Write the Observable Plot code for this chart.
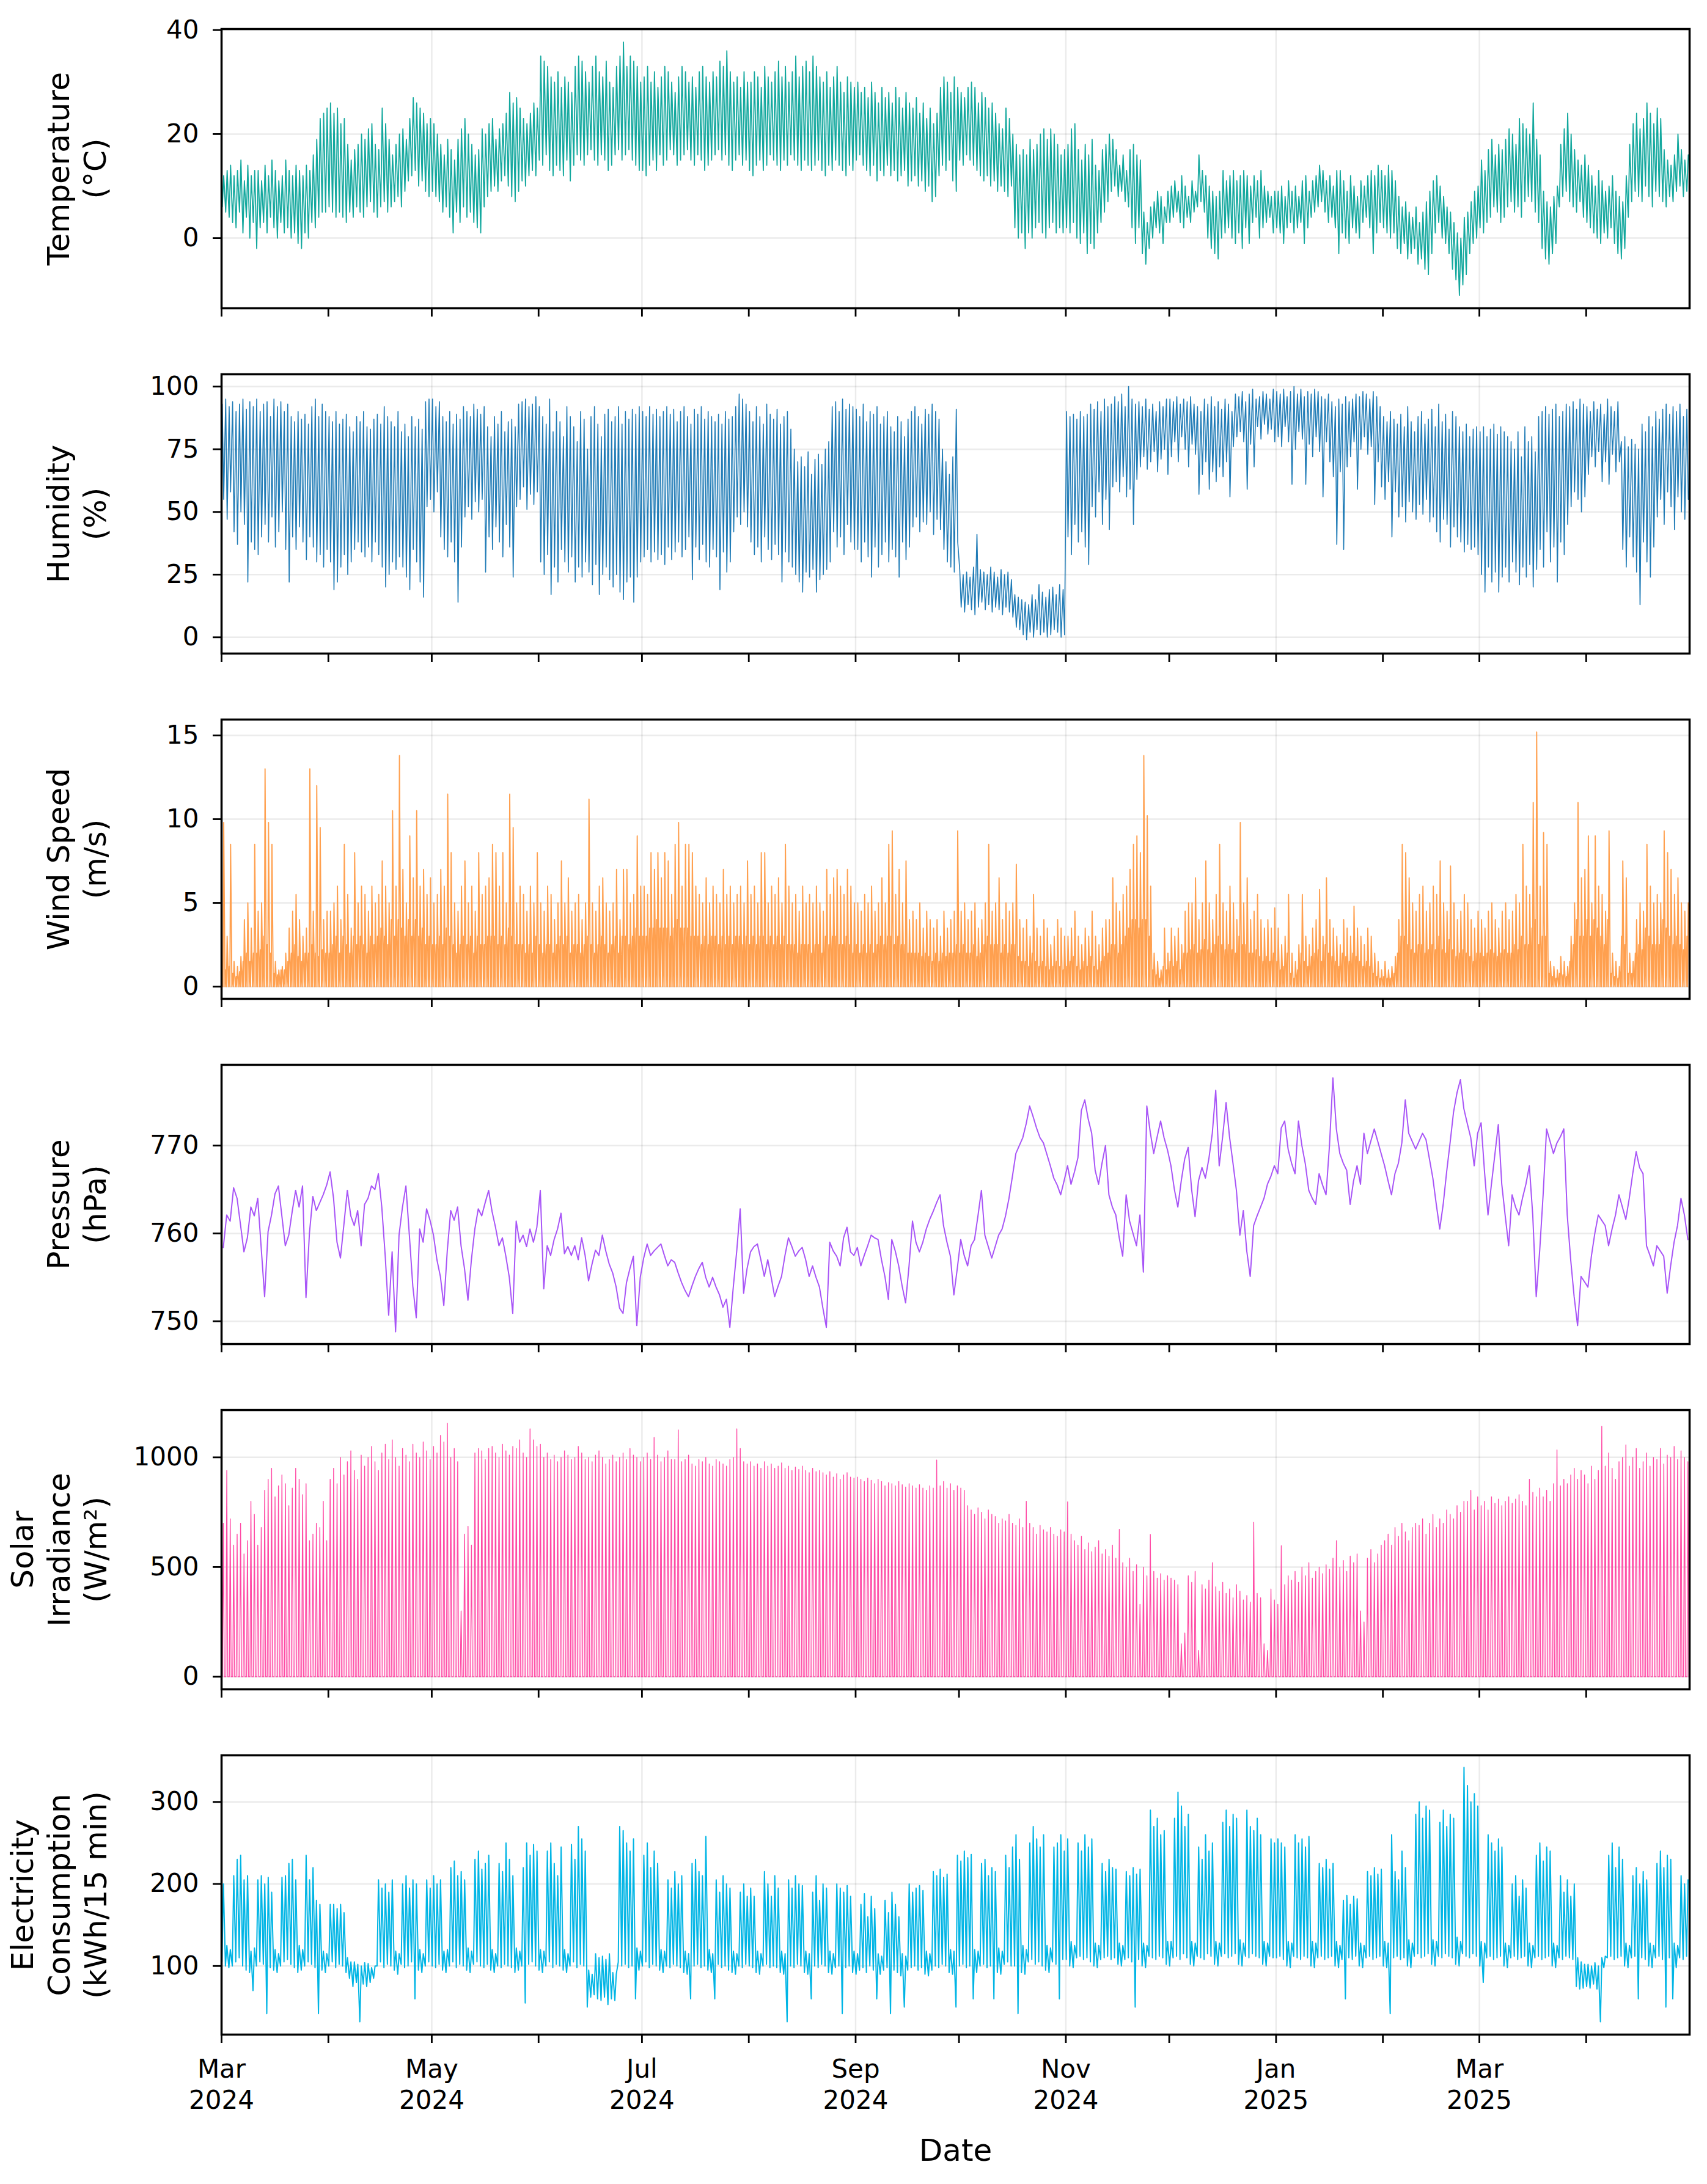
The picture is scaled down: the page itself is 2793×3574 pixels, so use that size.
<!DOCTYPE html>
<html><head><meta charset="utf-8">
<script src="https://cdn.jsdelivr.net/npm/d3@7"></script>
<script src="https://cdn.jsdelivr.net/npm/@observablehq/plot@0.6"></script>
<style>
body{margin:0;background:#fff;}
#chart{width:2793px;}
#chart svg{display:block;}
</style></head><body><div id="chart"></div>
<script>
// Daily readings, one entry per day from 2024-03-01 to 2025-04-30 (426 days)
const tempHigh = [
12,13,14,12,13,15,11,14,12,13,13,11,14,12,15,13,11,12,15,13,12,14,13,12,14,13,16,19,23,24,25,
26,24,25,22,23,18,15,17,18,20,19,21,22,18,17,25,22,19,16,18,20,21,19,23,27,26,25,24,22,23,
22,20,18,16,19,17,15,19,21,23,20,18,16,17,21,20,22,23,19,21,22,24,28,26,27,25,23,22,24,26,25,
35,34,33,31,30,32,29,31,30,28,33,35,34,32,30,33,35,32,31,34,30,29,33,35,37.7,33,35,34,33,30,
31,33,30,32,29,31,33,32,30,28,31,33,32,30,31,29,32,33,31,30,32,31,34,33,36,32,30,31,29,32,30,
30,32,31,29,33,31,30,32,34,31,33,30,32,35,31,33,34,32,35,33,31,30,32,29,31,33,30,28,31,30,29,
30,28,29,27,30,28,26,29,27,28,26,29,27,25,28,26,25,27,24,26,23,25,22,24,29,31,30,28,31,29,
28,27,29,30,29,26,28,27,25,26,24,22,21,25,23,20,18,16,17,16,19,17,18,20,21,19,21,20,18,16,17,
18,21,22,17,15,18,16,19,14,13,17,18,20,19,17,14,16,13,17,18,16,15,5,3,6,7,9,8,6,9,
10,11,9,12,10,8,11,9,16,13,12,10,9,8,9,13,11,12,13,11,12,13,12,10,12,11,13,10,9,8,9,
9,10,8,11,9,10,8,11,12,9,11,12,14,13,11,12,10,13,13,11,9,12,10,8,11,10,12,13,12,14,13,
12,14,13,11,8,6,7,5,4,6,3,5,7,9,11,12,10,8,6,5,3,1,0,4,5,7,9,10,
15,13,17,19,16,18,17,19,21,20,18,23,22,21,20,26,19,16,9,7,6,8,10,18,21,24,20,17,15,14,16,
14,12,10,13,11,9,10,12,9,8,7,12,18,22,24,21,23,26,24,22,25,23,17,15,14,16,20,17,15,16];
const tempLow = [
6,5,4,3,2,5,1,4,0,3,-2,2,3,1,4,2,0,3,1,2,0,1,-1,-2,1,0,3,2,4,5,5,
6,5,4,5,4,3,5,4,6,5,4,6,7,5,4,6,7,5,6,7,8,6,9,11,12,13,10,11,9,8,
9,8,7,5,6,4,1,5,3,6,4,5,3,2,1,6,8,9,10,9,11,12,10,8,7,9,11,10,12,13,12,
15,14,16,13,12,14,13,12,15,11,14,16,15,14,16,17,15,14,16,15,13,14,16,17,15,16,17,15,14,13,
13,12,14,15,13,16,14,15,17,16,14,15,16,17,15,14,16,15,13,14,15,16,17,15,16,14,13,15,16,14,15,
13,12,14,15,13,14,16,15,14,13,15,14,16,15,14,13,15,14,13,14,15,13,12,14,13,15,14,13,12,14,13,
15,16,14,13,12,14,11,13,12,14,12,13,11,12,13,10,11,12,10,11,9,10,7,8,12,14,13,15,11,9,
15,14,16,15,14,13,12,11,12,10,11,9,10,9,8,10,2,0,1,-2,1,0,2,3,1,0,2,3,1,2,1,
2,1,3,0,-1,1,-3,-1,-2,1,3,5,7,9,10,8,9,7,6,2,-1,2,-3,-5,-2,0,2,1,-1,3,
3,4,5,3,2,4,3,5,6,7,5,0,-2,-3,-4,0,1,2,0,-1,1,-2,2,-1,3,4,0,2,3,4,1,
2,1,-1,2,3,1,2,3,-1,2,4,5,6,7,5,3,4,2,-3,1,0,-1,2,1,0,3,4,2,-3,1,3,
2,1,0,1,-2,-3,-1,-4,-3,-2,-5,-4,-6,-7,-3,1,3,0,-1,-3,-6,-8,-11,-9,-7,-3,-1,0,
2,1,3,4,6,5,3,4,6,7,5,6,4,7,8,7,5,3,-2,-4,-5,-3,-1,6,8,9,7,6,5,7,4,
3,2,1,0,-1,1,0,2,-1,-3,-4,-2,4,7,9,8,7,10,8,6,9,8,7,6,8,7,9,10,8,9];

const humHigh = [
93,95,92,94,90,93,95,91,94,92,95,90,93,94,88,95,92,94,90,93,88,86,90,87,89,85,92,95,88,93,90,
88,86,90,85,87,89,84,82,88,86,90,84,83,87,89,85,92,88,86,84,90,82,85,80,88,84,87,83,94,95,
95,92,94,88,86,90,85,89,87,92,90,88,93,91,89,92,84,80,88,85,90,82,86,87,84,93,94,95,92,93,96,
92,88,85,95,82,90,86,80,92,88,84,78,90,87,75,88,92,85,80,89,91,86,88,92,85,90,87,91,89,92,
90,88,92,89,91,88,90,92,89,91,86,90,92,88,85,91,89,92,87,90,88,86,89,85,90,87,88,92,97,95,93,
90,86,92,88,85,93,89,87,91,85,88,90,83,75,70,72,68,74,65,71,73,69,75,78,92,94,90,95,91,93,92,
91,88,93,86,90,89,92,85,88,90,84,82,88,86,80,87,90,92,88,85,91,89,93,90,87,75,70,65,72,91,
27,25,26,24,28,41,27,26,25,28,26,24,27,25,26,23,17,16,15,14,13,17,15,21,18,16,19,20,17,21,19,
90,88,89,87,90,88,89,93,91,94,90,95,92,93,96,94,97,92,100,95,93,94,92,95,91,93,90,94,92,95,
95,94,96,93,95,94,96,93,92,90,95,93,96,92,94,91,95,93,90,97,96,98,94,97,99,95,96,98,97,95,99,
98,97,99,96,98,100,97,99,96,98,97,99,98,96,95,97,94,92,95,93,96,94,95,97,96,98,97,95,98,96,92,
88,86,90,87,85,89,84,92,86,82,88,90,85,87,91,84,93,86,89,83,90,88,84,82,85,80,83,84,
82,84,80,83,85,81,84,82,80,78,75,82,72,84,78,80,74,88,90,92,89,91,93,88,90,93,92,94,91,95,93,
92,90,94,91,93,89,95,92,90,94,78,80,76,79,77,75,85,82,88,84,90,87,91,93,89,92,90,93,88,91];
const humLow = [
55,47,58,42,37,50,45,22,38,35,33,40,45,38,48,36,42,50,35,22,40,35,44,38,31,40,36,30,33,28,35,
30,19,22,28,33,25,30,35,38,34,32,36,30,38,33,28,20,25,30,27,32,28,24,19,35,30,22,16,52,55,
50,58,40,35,32,38,30,14,36,48,52,47,54,50,55,26,40,35,44,38,32,45,36,24,52,55,60,51,57,53,58,
30,25,33,17,28,22,35,30,26,32,22,28,24,30,26,21,29,17,25,28,23,20,25,18,15,22,24,14,24,30,
32,35,30,34,31,33,29,36,31,34,38,32,35,40,23,36,31,37,30,28,35,32,19,34,26,30,42,48,45,50,44,
38,33,36,30,40,35,31,37,33,22,34,30,28,25,22,18,26,24,27,18,23,25,27,30,42,36,40,33,45,38,35,
35,30,38,32,24,36,28,33,38,30,35,32,24,38,31,36,44,48,42,46,45,50,41,47,43,35,30,28,26,38,
12,10,13,11,9,12,14,11,13,10,12,11,9,12,10,8,4,3,1,-1,2,0,3,1,2,0,1,3,2,0,1,
40,33,45,38,42,36,29,52,48,58,45,55,43,60,62,58,64,56,59,45,63,68,72,67,70,74,66,71,75,65,
72,78,70,80,75,68,77,73,57,65,70,59,66,62,68,64,70,56,76,80,82,78,59,77,68,84,79,85,81,83,78,
80,76,84,78,61,75,82,79,61,77,72,80,74,56,78,70,64,37,66,35,68,72,78,59,75,80,73,76,53,70,60,
55,62,40,58,48,52,46,54,50,47,53,49,55,46,48,42,38,47,45,36,44,40,38,34,37,35,36,33,
25,18,28,22,26,18,24,28,22,30,26,21,28,24,29,20,27,35,28,42,30,36,22,38,33,45,52,58,55,50,56,
65,72,68,74,62,70,61,73,66,70,35,28,40,32,26,13,38,30,24,36,48,55,45,58,52,43,56,50,47,55];

const windMax = [
9.8,3,8.5,1.5,1.2,1.8,4,5,3.5,8.5,4.5,5,13,9.8,8.5,1.5,1,1.2,2,3.5,4.5,5.5,4,3,3.5,13,4.5,12,9.5,4,4.5,
4.5,5,6,4,8.5,5.5,3.5,8,5,6,5.5,4.5,6,5,5.5,7.5,6,5,10.5,6,13.8,7,5,9,6.5,10.5,6,7,5.5,6.5,
5,5.5,7,6,11.5,8,5,4.5,6,7.5,5,6,4.5,8,5.5,6,6.5,8.5,8,6,8,5,11.5,9.5,5,6,5.5,4.5,6,5,8,
5,4.5,6,5.5,4,5,7.5,5,6.5,4.5,5,5.5,4,5,11.2,5,4.5,6,6.5,5,4.5,5,7,4,7,7,5,5.5,9,6,
6,5.5,8,7,8,6.5,8,7.5,5.5,8.5,9.8,6,8.5,8.5,8,6,5.5,5,6.5,5,6,5.5,5,7,5.5,6,5,5.5,6,5,7.5,
5.5,6,5,8,8,5,6,5.5,6.5,5,8.5,6,5,5.5,4.5,6,5,5.5,5,6,5,4.5,7,5.5,6.5,7,6,5.5,7,6,5,
5,4.5,5.5,5,6,4.5,5,6.5,5,8.5,9.3,5.5,7,5,7.5,4,4.5,4,5,3.5,4.5,4,3.5,4,3,4.5,3.5,4,4.5,9.3,
4.5,5,4,4.5,5,3.5,4,5,8.5,4.5,5,6.5,4,5,4.5,5,7.3,4,3.5,4,3,5.5,3.5,3,4,3.5,2.5,3,4,3.5,3,
3,3.5,4.5,3,2.5,3.5,3,4.5,3,2.5,3.5,4,4,6.5,5,4.5,5.5,6,7,8.5,9,8,13.8,10.2,6,2,1.5,1,3.5,2,
3.5,3,3.5,2.5,4.5,5,5,6.5,4,5,7.5,5,4,5.5,8.5,5,4.5,6,5,4,9.8,5,6.5,4,4.5,5.5,4,3.5,4,3.5,4.7,
3.5,2.5,3,5.5,2,1.5,2.5,5.5,3,2.5,3.5,4,5.8,3,6.5,4,3.5,3,2.5,4,3.5,3,4.8,3.5,3,2.5,3.5,3,2,1.5,1,
1.5,1,1.2,1.8,4,8.5,8,6.5,5,4.5,5.5,6,4.5,5,6,5.5,7.5,5,4.5,7.2,5,4,4.5,5.5,5,4,3.5,4.5,
4,3.5,4.5,5,4,3.5,4.5,5,4,4.5,5.5,5,8.5,6,5.5,11,15.2,6,9.2,8.5,1.5,1.2,1,1.8,1.5,1.2,3,5,11,6.5,7,
9,5,9,6,5.5,4.5,9.3,2,1.5,1.2,7.5,6.5,2,1.5,4,5,4.5,8.5,6,5,5.5,5,9.3,8,7,5.5,6.5,5,4.5,5];
const windMid = [
1.5,1,1.2,0.8,0.6,0.9,1.5,2,1.5,2,2,2.2,3,2.5,2,0.8,0.7,1,1,1.5,2,2.5,1.8,1.5,2,2,2.5,2,1.8,2.2,2,
2,2.5,3,2,3,2.5,2,3,2.5,3,2.5,2,3,2.5,3,3.5,3,2.5,4,3,4,3.5,3,4,3,4,3,3.5,2.5,3,
2.5,2.5,3,2.5,3.5,3,2.5,2,2.5,3,2.5,3,2,3,2.5,2.5,3,3,3,2.5,3,2.5,3.5,3,2.5,2.5,2.5,2,2.5,2,3,
2.5,2,2.5,2.5,2,2.5,3,2.5,3,2,2.5,2.5,2,2.5,3,2.5,2,2.5,3,2.5,2,2.5,3,2,3,3,2.5,3,3.5,3,
3,3,3.5,3.5,4,3.5,3.5,3.5,3,3.5,4,3.5,3.5,3.5,3,3,3,2.5,3,2.5,3,3,2.5,3,2.5,3,2.5,3,3,2.5,3,
2.5,3,2.5,3,3,2.5,3,2.5,3,2.5,3,2.5,2.5,2.5,2,2.5,2.5,2.5,2,2.5,2.5,2,3,2.5,3,3,2.5,2.5,3,2.5,2,
2.5,2,2.5,2,2.5,2,2.5,3,2.5,3,3,2.5,3,2.5,2.5,2,2,2,2,1.8,2,1.8,1.5,2,1.5,2,1.8,2,2,2.5,
2,2.5,2,2,2.5,1.8,2,2.5,3,2.5,2.5,2.5,2,2.5,2,2.5,2.5,1.8,1.5,1.5,1.2,2,1.5,1.2,1.5,1.2,1,1.2,1.5,1.2,1,
1.2,1.5,1.8,1.2,1,1.5,1.2,1.8,1.2,1,1.5,1.8,2,2.5,2.5,2,2.5,3,3.5,4,4,3.5,4,4,3,1,0.7,0.5,1.2,1,
1.5,1.2,1.5,1,2,2,2.2,2.5,2,2.2,2.8,2.2,2,2.5,3,2.5,2.2,2.5,2.2,2,3,2.5,2.5,2,2,2.2,1.8,1.5,1.8,1.5,2,
1.5,1,1.2,2,0.8,0.5,1,2,1.5,1.2,1.8,2,2.2,1.5,2.5,2,1.8,1.5,1.2,2,1.8,1.5,2,1.8,1.5,1.2,1.5,1.2,0.8,0.6,0.5,
0.6,0.5,0.5,0.8,2,3,3,2.5,2.2,2,2.5,2.5,2,2.2,2.5,2.2,3,2.2,2,2.8,2.2,1.8,2,2.2,2,1.8,1.5,2,
2,1.8,2,2.2,2,1.8,2,2.2,2,2,2.5,2.2,3,2.5,2.5,3.5,4,2.5,3,3,0.8,0.6,0.5,0.8,0.7,0.6,1.5,2.5,4,3,3,
4,3,4,3.5,3,2.5,4,0.8,0.6,0.5,3,2.5,0.8,0.8,2,2.5,2.2,3.5,3,2.5,2.5,2.5,4,3.5,3,2.5,3,2.5,2.2,3];
const windFloor = 0;

const pressure = [
758.4,762.1,761.4,765.2,764,761,757.9,759.5,763,762,764,758.4,752.8,760.2,762.1,764.5,765.4,762,758.6,759.8,762.5,764.9,763,765.4,752.7,760,764.2,762.6,763.5,764.4,765.5,
767,764,759,757.2,761,764.9,762,760.9,762.6,758.6,763.3,764,765.4,765,766.8,763,757.4,750.7,757.9,748.8,759.8,763,765.4,759.8,754,750.4,760.5,759,762.8,761.5,
759.8,757,755.1,751.8,758,762.6,761.5,763,758.6,756,752.4,757,760.5,762.8,762,763.5,764.9,762.5,760.7,758.6,759.5,757.4,755,750.9,761.4,759,759.8,758.5,760.5,759,760.7,
764.9,753.7,758.6,757.5,759.3,760.5,762.3,757.7,758.5,757.5,758.6,757,759.5,757.5,754.6,756.5,758.1,757.5,759.8,758,756.5,755.5,753.9,751.5,750.9,754.4,756,757.4,749.5,755,
757.2,758.8,757.5,758,758.4,758.8,757.5,756.3,757,756.7,755.5,754.4,753.5,752.8,754,755.1,756,756.7,755,753.9,755,753.9,753,751.6,752.5,749.3,753.9,758,762.8,753.2,756,
757.9,758.5,758.8,757,755.1,757,755,752.8,754,755.1,757.5,759.5,758.5,757.4,758,758.4,757,755.1,756.3,755,753.9,751.5,749.3,759,758,757.4,756.3,759.5,760.7,757.9,757.5,
758.4,756.3,757.5,758.6,759.8,759.5,759.3,757,755.1,752.5,759.3,758,756.3,754,752.1,756.3,761.4,759,757.9,759,760.5,761.6,762.5,763.5,764.4,760.9,759,757.4,753,756,
759.3,757.5,756.3,758.6,759.3,762,764.9,759.8,758.5,757.2,758.5,759.8,760.5,762,764,766.5,769.1,770,770.9,772.5,774.5,773.3,772,770.9,770.3,769,767.7,766.3,765.5,764.4,766,
767.7,765.6,767,768.6,774,775.2,773,771.4,767.2,765.6,768,770,764.4,763,762.1,759.5,757.4,764.4,761.4,760,758.6,762.1,755.6,774.5,771.5,769.1,771,772.8,770.9,769.5,
767.7,765,763,766,768.5,769.8,765,761.9,766,767.5,766.3,768.5,771.4,776.3,767.7,771,774.9,771,768,764.9,759.8,762.6,758,755.1,760.9,762,763,764,765.6,766.5,767.7,
766.8,772,772.8,769.6,768,766.8,772.8,770,767.9,764.9,764,763.3,766.8,765.5,764.4,770,777.7,771.9,769.1,768,767.2,763.3,766,767.7,765.6,771.4,769.1,770.5,771.9,770.5,769.1,
767.7,766,764.4,766.8,768,770.3,775.2,771.4,770.5,769.6,770.5,771.4,770.7,768.5,766.3,763.3,760.5,763.3,767,770.3,773.8,776,777.5,774.2,772.5,770.9,767.7,771.4,
772.6,767,762.1,765.6,769,772.4,765.6,762,758.6,764.4,763,762.1,764,765.6,767.7,762,752.8,758,764.4,771.9,770.5,769.1,770.3,771,771.9,762.1,757,752.8,749.5,755.1,754.5,
753.9,757.4,760,762.1,761.5,760.9,758.6,760.5,762.1,764.4,763,761.6,764,766.8,769.3,767.5,766.8,758.6,757.5,756.3,758.6,758,757.4,753.2,756.3,759,760.9,764,762.1,759.3];

const solarPeak = [
700,940,720,600,650,700,560,620,800,740,600,680,850,900,950,820,870,920,880,780,860,950,900,830,880,620,650,700,680,800,620,
900,950,880,1000,920,980,1030,940,900,1010,960,1000,1050,980,940,1020,1060,990,1080,1000,960,1040,1010,980,1060,1020,1000,1070,1030,990,
1050,1020,1100,1070,1155,1000,1040,980,300,650,686,600,1020,1040,1030,990,1040,1050,1020,1000,1060,1030,1010,1050,1040,1080,1020,1000,1130,1080,1050,
1060,1000,1020,990,1010,980,1000,1030,1010,990,1000,1050,1020,990,1000,980,1010,1030,1000,970,990,1010,980,1000,1020,990,1040,1010,1000,980,
1000,1020,990,1090,1010,980,1000,1030,990,990,1125,980,990,1010,970,960,990,980,1000,970,960,990,980,970,960,990,1000,1130,1040,980,970,
980,960,970,950,980,960,970,950,960,975,950,960,940,955,945,960,940,930,950,935,940,930,920,935,910,925,900,920,930,910,905,
910,900,890,905,895,880,900,890,870,885,880,870,890,875,865,880,870,860,875,860,850,870,860,988,870,890,860,880,850,870,
860,850,780,760,740,770,750,720,760,740,730,700,720,710,740,700,690,720,680,800,700,680,650,690,670,660,680,650,640,670,660,
797,650,620,600,640,580,610,570,590,620,560,580,550,600,540,672,520,500,540,480,510,330,500,460,649,480,450,470,440,460,
450,440,420,150,200,460,430,480,120,420,400,440,520,410,390,430,380,400,360,420,390,350,370,340,704,380,360,150,120,400,350,
330,597,420,460,440,480,430,500,460,520,450,480,500,470,510,490,540,620,500,530,480,550,520,560,300,250,540,580,520,560,600,
620,650,600,680,640,700,660,620,680,700,690,720,650,700,740,680,720,700,760,740,720,780,750,800,800,850,760,820,
780,800,760,820,790,810,780,800,820,790,810,830,800,780,900,840,820,860,820,850,800,880,1034,870,900,880,920,950,900,940,920,
880,960,900,940,1141,960,1020,950,900,980,1000,1057,960,1000,1040,950,980,1020,960,1000,990,1040,970,1010,1000,1050,990,1030,1000,980];
const solarNight = 0;

const elecHigh = [
200,125,120,210,230,235,205,210,118,122,205,210,200,208,190,120,115,208,210,225,230,205,125,120,235,205,220,180,175,118,115,
175,175,170,175,165,110,105,105,102,100,104,103,98,100,205,195,200,190,205,118,115,200,210,195,205,200,120,115,205,195,
210,200,205,118,120,220,228,210,215,205,122,118,230,240,218,225,235,120,115,225,215,250,230,210,122,118,220,250,235,248,240,
120,118,240,250,225,210,245,120,115,248,230,270,255,240,95,90,115,110,112,108,115,92,90,270,265,250,240,255,122,118,
235,250,220,240,225,120,118,205,195,215,200,210,118,115,225,230,215,210,258,120,115,205,190,210,200,195,118,115,190,200,185,
195,185,118,115,215,200,185,210,195,118,115,205,195,210,200,198,118,115,190,210,180,200,195,118,115,200,195,190,198,185,118,
115,175,188,160,185,170,115,112,180,165,190,175,160,115,112,200,190,195,198,192,118,115,215,210,218,208,212,120,118,235,
228,240,232,236,120,118,225,230,210,220,215,122,118,235,220,245,260,230,125,120,250,270,255,245,260,125,122,245,250,260,240,
255,130,125,250,240,260,245,255,128,125,225,215,230,220,218,128,125,215,210,220,212,218,128,125,290,270,280,260,265,130,
130,280,312,295,270,285,130,128,245,230,260,240,250,130,128,275,290,270,285,280,132,128,290,270,265,280,260,130,128,255,250,
255,250,245,130,128,260,250,255,245,258,130,128,225,220,230,218,225,130,125,180,186,175,185,182,128,125,215,210,220,212,218,
130,128,260,215,205,240,220,132,128,285,300,280,295,290,132,130,275,290,270,285,280,135,130,342,320,300,310,295,
130,128,260,250,240,255,245,128,125,200,210,185,205,195,128,125,235,250,228,245,240,128,125,210,190,205,185,200,110,105,102,
102,100,104,100,110,112,235,250,220,245,230,128,125,210,220,200,215,205,128,125,225,240,220,235,230,128,125,210,200,205];
const elecLow = [
105,100,98,100,105,110,100,95,92,70,100,105,102,42,98,95,92,100,105,108,102,98,92,95,100,105,102,98,42,95,92,
100,105,98,102,100,92,85,75,80,32,78,75,80,85,100,105,98,102,100,95,90,102,98,100,105,60,95,92,100,105,
100,98,102,95,92,100,105,98,102,100,95,92,102,105,100,98,102,95,92,100,98,102,100,98,92,95,100,55,102,105,100,
95,92,100,105,98,102,100,95,92,100,105,98,102,100,50,62,65,60,58,62,53,60,58,105,100,102,98,100,60,95,
100,105,98,102,100,95,92,100,98,102,100,98,92,90,60,100,102,98,100,95,92,60,102,98,100,95,92,90,100,98,102,
100,98,92,90,100,102,98,100,98,92,90,32,100,98,102,100,92,90,60,100,98,102,100,92,90,98,100,42,98,100,92,
90,95,98,92,100,95,60,90,95,98,42,95,92,88,50,95,98,100,95,98,90,88,95,100,98,102,100,92,90,50,
100,102,98,100,60,92,100,102,98,100,60,92,90,102,105,100,100,42,92,90,105,108,102,105,100,95,92,105,102,60,108,
108,100,98,110,112,108,110,105,100,98,108,110,112,108,110,102,100,108,110,105,50,108,100,98,112,110,108,112,110,102,
100,110,112,108,115,110,102,100,112,110,108,115,112,102,100,112,115,110,112,115,102,100,112,110,115,112,110,102,100,112,110,
110,112,108,100,98,112,110,108,112,110,100,98,110,112,108,110,112,100,98,108,60,110,108,112,100,98,110,112,108,110,112,
100,98,42,110,112,108,110,100,98,112,115,110,112,115,102,100,112,110,115,112,110,102,100,115,112,110,115,112,
100,80,110,112,108,110,112,100,98,110,112,108,110,112,100,98,110,112,108,110,112,100,98,110,108,112,110,108,75,72,73,
75,73,78,72,32,98,110,112,108,110,112,100,98,110,112,60,110,108,100,98,110,112,108,50,110,60,98,110,108,112];

const tempTicks = [0, 20, 40];
const humTicks = [0, 25, 50, 75, 100];
const windTicks = [0, 5, 10, 15];
const pressTicks = [750, 760, 770];
const solarTicks = [0, 500, 1000];
const elecTicks = [100, 200, 300];

const DAY0 = Date.UTC(2024, 2, 1);
const DAY_END = Date.UTC(2025, 4, 1);
const at = (d, h) => new Date(DAY0 + (d * 24 + h) * 3600000);

const tempSeries = tempHigh.flatMap((hi, d) => [{t: at(d, 5), v: tempLow[d]}, {t: at(d, 15), v: hi}]);
const humSeries = humHigh.flatMap((hi, d) => [{t: at(d, 5), v: hi}, {t: at(d, 15), v: humLow[d]}]);
const windSeries = windMax.flatMap((mx, d) => [
  {t: at(d, 0), v: windFloor}, {t: at(d, 6), v: windMid[d]},
  {t: at(d, 10), v: windFloor}, {t: at(d, 15), v: mx}]);
const pressSeries = pressure.map((p, d) => ({t: at(d, 12), v: p}));
const solarSeries = solarPeak.flatMap((pk, d) => [
  {t: at(d, 6), v: solarNight}, {t: at(d, 12.5), v: pk}, {t: at(d, 19), v: solarNight}]);
const elecSeries = elecHigh.flatMap((hi, d) => [{t: at(d, 3), v: elecLow[d]}, {t: at(d, 13), v: hi}]);

const months = d3.utcMonth.range(new Date(DAY0), new Date(DAY_END));
const majorMonths = months.filter(m => m.getUTCMonth() % 2 === 0);
const fmtMonth = d3.utcFormat("%b");
const fmtYear = d3.utcFormat("%Y");

const panels = [
  {data: tempSeries, color: "#13a89e", domain: [-13.5, 40.2], ticks: tempTicks, label: "Temperature\n(°C)", sw: 1.8},
  {data: humSeries, color: "#1f7bb6", domain: [-6.5, 104.9], ticks: humTicks, label: "Humidity\n(%)", sw: 1.6},
  {data: windSeries, color: "#ffa04f", domain: [-0.73, 15.95], ticks: windTicks, label: "Wind Speed\n(m/s)", sw: 1.9},
  {data: pressSeries, color: "#a855f7", domain: [747.4, 779.2], ticks: pressTicks, label: "Pressure\n(hPa)", sw: 2},
  {data: solarSeries, color: "#ff4aa5", domain: [-57.4, 1215.5], ticks: solarTicks, label: "Solar\nIrradiance\n(W/m²)", sw: 1.4},
  {data: elecSeries, color: "#00b5e5", domain: [16.4, 356.8], ticks: elecTicks, label: "Electricity\nConsumption\n(kWh/15 min)", sw: 2}
];

const grid = {stroke: "#000", strokeOpacity: 0.08, strokeWidth: 2.5};
const chart = document.getElementById("chart");
panels.forEach((p, i) => {
  const last = i === panels.length - 1;
  const nLines = p.label.split("\n").length;
  const svg = Plot.plot({
    width: 2793,
    height: last ? 749 : 565,
    marginLeft: 362, marginRight: 29, marginTop: 47, marginBottom: last ? 245 : 61,
    style: "font-family: 'DejaVu Sans', sans-serif; font-size: 42px; background: #fff; color: #000; overflow: visible;",
    x: {type: "utc", domain: [new Date(DAY0), new Date(DAY_END)]},
    y: {domain: p.domain},
    marks: [
      Plot.gridY(p.ticks, grid),
      Plot.gridX(majorMonths, grid),
      Plot.line(p.data, {x: "t", y: "v", stroke: p.color, strokeWidth: p.sw}),
      Plot.axisY(p.ticks, {tickSize: 14, tickPadding: 23, fontSize: 42, strokeWidth: 2.8, label: null,
        tickFormat: d => String(d)}),
      Plot.axisX(months, {
        tickSize: 14, tickPadding: 21, fontSize: 42, lineHeight: 1.2, strokeWidth: 2.8, label: null,
        tickFormat: last ? (d => d.getUTCMonth() % 2 === 0 ? fmtMonth(d) + "\n" + fmtYear(d) : "") : (() => "")
      }),
      Plot.frame({stroke: "#000", strokeWidth: 3.5}),
      Plot.text([p.label], {frameAnchor: "left", textAnchor: "middle", lineAnchor: "middle", rotate: -90,
        dx: nLines === 3 ? -268 : -239, fontSize: 50, lineHeight: 1.2}),
      last ? Plot.text(["Date"], {frameAnchor: "bottom", lineAnchor: "bottom", dy: 206, fontSize: 50}) : null
    ]
  });
  chart.appendChild(svg);
});
</script>
</body></html>
